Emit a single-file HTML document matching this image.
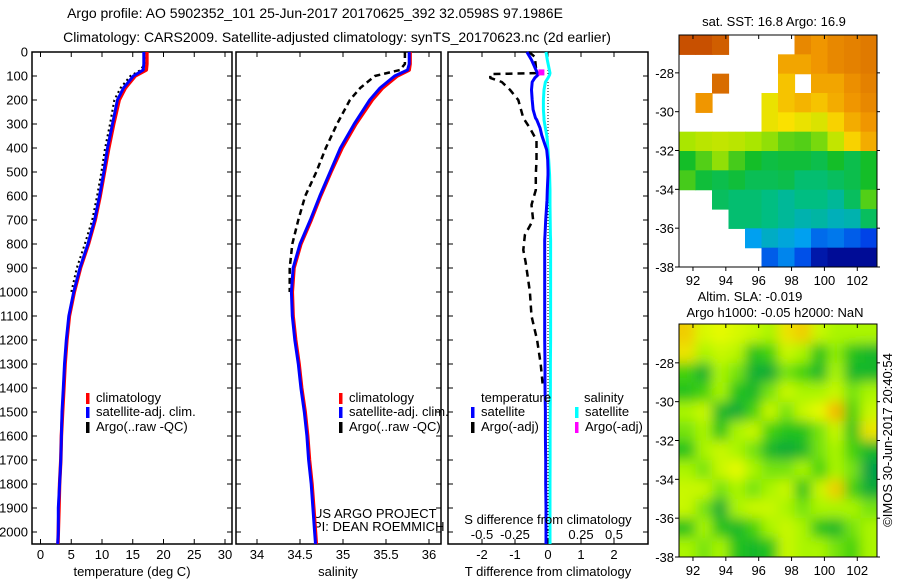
<!DOCTYPE html>
<html><head><meta charset="utf-8"><style>
html,body{margin:0;padding:0;background:#fff}
svg{display:block;font-family:"Liberation Sans",sans-serif}
text{font-size:13px;fill:#000}
</style></head><body>
<svg id="c" width="900" height="580" viewBox="0 0 900 580" xmlns="http://www.w3.org/2000/svg">
<defs>
<clipPath id="clipTop"><rect x="679" y="35" width="198" height="232"/></clipPath>
<clipPath id="clipBot"><rect x="679" y="324" width="198" height="233"/></clipPath>
<filter id="blur" filterUnits="userSpaceOnUse" x="640" y="290" width="280" height="300"><feGaussianBlur stdDeviation="6"/></filter>
</defs>
<text x="315" y="18" text-anchor="middle" style="font-size:14px">Argo profile: AO 5902352_101 25-Jun-2017 20170625_392 32.0598S 97.1986E</text>
<text x="337" y="42" text-anchor="middle" style="font-size:14px">Climatology: CARS2009. Satellite-adjusted climatology: synTS_20170623.nc (2d earlier)</text>
<text x="774" y="26" text-anchor="middle">sat. SST: 16.8 Argo: 16.9</text>
<text x="750" y="301" text-anchor="middle">Altim. SLA: -0.019</text>
<text x="775" y="317" text-anchor="middle">Argo h1000: -0.05 h2000: NaN</text>
<text transform="translate(892,440) rotate(-90)" text-anchor="middle">©IMOS 30-Jun-2017 20:40:54</text>
<text x="313" y="518">US ARGO PROJECT</text>
<text x="313" y="531">PI: DEAN ROEMMICH</text>
<g id="g"></g>
</svg>
<script>
// ---- data ----
const depths = [0,50,75,100,150,200,300,400,500,600,700,800,900,1000,1100,1200,1300,1400,1500,1600,1700,1800,1900,2000,2050];
const tempClim = [17.3,17.3,17.2,15.4,13.8,12.8,11.9,11.1,10.4,9.7,8.9,7.8,6.5,5.5,4.7,4.3,4.0,3.8,3.6,3.4,3.3,3.1,3.0,2.9,2.85];
const tempSat  = [16.8,16.8,16.7,15.1,13.5,12.5,11.7,10.9,10.3,9.6,8.8,7.7,6.4,5.4,4.6,4.2,3.9,3.7,3.5,3.4,3.3,3.1,2.9,2.9,2.8];
const argoDepths = [0,50,75,100,150,200,300,400,500,600,700,800,900,1000];
const tempArgo = [16.9,16.9,16.3,14.6,13.0,12.0,11.3,10.5,9.9,9.2,8.4,7.2,5.9,5.0];
const salClim = [35.78,35.78,35.77,35.63,35.46,35.34,35.15,34.99,34.86,34.74,34.63,34.51,34.43,34.41,34.42,34.45,34.49,34.52,34.56,34.59,34.61,34.64,34.66,34.68,34.69];
const salSat  = [35.77,35.77,35.75,35.60,35.43,35.31,35.13,34.97,34.85,34.73,34.62,34.50,34.42,34.40,34.41,34.44,34.48,34.51,34.55,34.58,34.60,34.63,34.65,34.67,34.68];
const salArgo = [35.72,35.72,35.66,35.37,35.20,35.08,34.93,34.80,34.69,34.56,34.48,34.41,34.38,34.38];
const diffDepths = [0,33,88,95,108,125,158,200,240,275,283,317,346,367,408,450,492,512,575,617,637,700,762,783,825,875,950,1000,1100,1200,1300,1400,1500,1600,1700,1800,1900,2000,2050];
const tDiffSat = [-0.64,-0.5,-0.32,-0.3,-0.4,-0.48,-0.5,-0.48,-0.45,-0.38,-0.34,-0.24,-0.19,-0.14,-0.04,-0.01,0,0,-0.02,-0.03,-0.04,-0.07,-0.09,-0.1,-0.1,-0.1,-0.1,-0.1,-0.1,-0.1,-0.09,-0.09,-0.08,-0.08,-0.07,-0.07,-0.06,-0.06,-0.06];
const sDiffSat = [-0.015,-0.005,0.015,0.012,0.0,-0.02,-0.03,-0.035,-0.035,-0.03,-0.03,-0.02,-0.01,-0.005,0,0.005,0.01,0.012,0.015,0.015,0.015,0.017,0.018,0.02,0.02,0.02,0.02,0.02,0.02,0.02,0.018,0.018,0.017,0.016,0.016,0.015,0.015,0.015,0.015];
const argoDiffDepths = [0,20,88,92,108,125,158,200,275,317,367,450,512,575,637,700,762,825,875,950,1000,1100,1200,1300,1400];
const tDiffArgo = [-0.58,-0.4,-0.35,-1.75,-1.75,-1.4,-1.15,-0.9,-0.75,-0.55,-0.35,-0.35,-0.37,-0.37,-0.5,-0.45,-0.7,-0.75,-0.68,-0.6,-0.55,-0.5,-0.33,-0.22,-0.15];
const sDiffArgoDepth = [85];
const sDiffArgo = [-0.05];
const tTicks = [0,5,10,15,20,25,30];
const sTicks = [34,34.5,35,35.5,36];
const sTickLabels = ["34","34.5","35","35.5","36"];
const dTTicks = [-2,-1,0,1,2];
const dSTicks = [-0.5,-0.25,0,0.25,0.5];
const dSTickLabels = ["-0.5","-0.25","0","0.25","0.5"];
const depthTicks = [0,100,200,300,400,500,600,700,800,900,1000,1100,1200,1300,1400,1500,1600,1700,1800,1900,2000];
const lonTicks = [92,94,96,98,100,102];
const latTicks = [-28,-30,-32,-34,-36,-38];
const N = null;
const sstGrid = [
[0.92,0.92,0.9,N,N,N,N,0.84,0.82,0.84,0.85,0.86],
[N,N,N,N,N,N,0.8,0.8,0.82,0.84,0.85,0.86],
[N,N,0.88,N,N,N,0.76,N,0.8,0.8,0.83,0.85],
[N,0.82,N,N,N,0.7,0.76,0.78,0.76,0.79,0.82,0.84],
[N,N,N,N,N,0.7,0.72,0.7,0.68,0.74,0.79,0.82],
[0.62,0.64,0.65,0.64,0.62,0.6,0.56,0.55,0.58,0.65,0.74,0.79],
[0.5,0.55,0.6,0.54,0.5,0.47,0.48,0.48,0.46,0.5,0.46,0.5],
[0.54,0.48,0.46,0.48,0.45,0.45,0.46,0.42,0.42,0.44,0.46,0.5],
[N,N,0.44,0.42,0.42,0.4,0.38,0.4,0.4,0.38,0.44,0.55],
[N,N,N,0.42,0.42,0.4,0.38,0.36,0.37,0.35,0.36,0.44],
[N,N,N,N,0.3,0.34,0.32,0.3,0.22,0.24,0.2,0.16],
[N,N,N,N,N,0.2,0.26,0.18,0.06,0.03,0.03,0.03]];
const slaGrid = [
[0.9,0.75,0.8,0.75,0.7,0.6,0.85,0.9,0.7,0.6,0.6,0.6],
[0.85,0.6,0.7,0.65,0.3,0.4,0.7,0.6,0.3,0.55,0.3,0.2],
[0.4,0.15,0.6,0.5,0.15,0.1,0.5,0.4,0.2,0.6,0.2,0.2],
[0.3,0.4,0.6,0.3,0.2,0.5,0.7,0.6,0.6,0.7,0.5,0.6],
[0.6,0.7,0.2,0.1,0.4,0.7,0.5,0.7,0.8,0.95,0.4,0.7],
[0.5,0.6,0.3,0.6,0.7,0.4,0.3,0.3,0.5,0.7,0.3,0.85],
[0.3,0.6,0.7,0.6,0.5,0.2,0.1,0.2,0.5,0.6,0.4,0.2],
[0.6,0.5,0.7,0.8,0.6,0.5,0.5,0.6,0.4,0.6,0.5,0.0],
[0.7,0.7,0.5,0.6,0.5,0.6,0.7,0.3,0.7,0.9,0.4,0.1],
[0.7,0.5,0.1,0.6,0.7,0.7,0.6,0.5,0.6,0.6,0.6,0.5],
[0.3,0.6,0.3,0.2,0.4,0.6,0.7,0.6,0.3,0.2,0.5,0.6],
[0.6,0.5,0.6,0.3,0.2,0.3,0.7,0.6,0.6,0.5,0.4,0.6]];

// ---- helpers ----
const NS = "http://www.w3.org/2000/svg";
const G = document.getElementById('g');
function mk(tag, attrs, parent){ const e=document.createElementNS(NS,tag); for(const k in attrs) e.setAttribute(k,attrs[k]); (parent||G).appendChild(e); return e; }
function txt(x,y,s,anchor,parent){ const t=mk('text',{x:x,y:y,'text-anchor':anchor||'middle'},parent); t.textContent=s; return t; }
const Y0=52, Y1=544;
const yD = d => Y0 + d*0.24;
const xT = t => 40.5 + t*6.15;
const xS = s => 257 + (s-34)*86;
const xDT = v => 548 + v*33;
const xDS = v => 548 + v*132;

function frame(x0,x1,name){
  const r=mk('rect',{x:x0,y:Y0,width:x1-x0,height:Y1-Y0,fill:'none',stroke:'#000','stroke-width':1.5});
  
  
}
function depthTicksFor(x0,x1,labels){
  depthTicks.forEach(d=>{
    const y=yD(d);
    mk('line',{x1:x0,y1:y,x2:x0+5,y2:y,stroke:'#000'});
    mk('line',{x1:x1,y1:y,x2:x1-5,y2:y,stroke:'#000'});
    if(labels){ const t=txt(28,y+4.5,String(d),'end');
      
       }
  });
}
function xTicks(vals,labs,fx,ly,name){
  vals.forEach((v,i)=>{
    const x=fx(v);
    mk('line',{x1:x,y1:Y0,x2:x,y2:Y0+5,stroke:'#000'});
    mk('line',{x1:x,y1:Y1,x2:x,y2:Y1-5,stroke:'#000'});
    if(ly){ const t=txt(x,ly,labs[i]);
      
       }
  });
}
function line(xs,ds,fx,color,w,dash,name){
  const p=xs.map((v,i)=>fx(v).toFixed(1)+','+yD(ds[i]).toFixed(1)).join(' ');
  const a={points:p,fill:'none',stroke:color,'stroke-width':w,'stroke-linejoin':'round'};
  if(dash) a['stroke-dasharray']=dash;
  const e=mk('polyline',a);
  
  
}
function legendItem(x,y,color,label,name){
  mk('rect',{x:x,y:y-9,width:3.5,height:11,fill:color});
  const t=txt(x+10,y,label,'start');
  
  
}

// ---- panel 1 ----
frame(32,232,'temperature-panel');
depthTicksFor(32,232,true);
xTicks(tTicks,tTicks.map(String),xT,559,'temperature-tick-label');
line(tempArgo,argoDepths,xT,'#000',2,'2,3','temperature-argo-line');
line(tempClim,depths,xT,'#f00',3.5,null,'temperature-climatology-line');
line(tempSat,depths,xT,'#00f',3,null,'temperature-satellite-line');
legendItem(86,402,'#f00','climatology','legend-climatology');
legendItem(86,416,'#00f','satellite-adj. clim.','legend-satellite');
legendItem(86,431,'#000','Argo(..raw -QC)','legend-argo');
{const t=txt(132,576,'temperature (deg C)');  }

// ---- panel 2 ----
frame(236,441,'salinity-panel');
depthTicksFor(236,441,false);
xTicks(sTicks,sTickLabels,xS,559,'salinity-tick-label');
line(salArgo,argoDepths,xS,'#000',2.5,'6,4','salinity-argo-line');
line(salClim,depths,xS,'#f00',3.5,null,'salinity-climatology-line');
line(salSat,depths,xS,'#00f',3,null,'salinity-satellite-line');
legendItem(339,402,'#f00','climatology','legend-climatology-2');
legendItem(339,416,'#00f','satellite-adj. clim.','legend-satellite-2');
legendItem(339,431,'#000','Argo(..raw -QC)','legend-argo-2');
{const t=txt(338,576,'salinity');  }

// ---- panel 3 ----
frame(448,648,'difference-panel');
depthTicksFor(448,648,false);
xTicks(dTTicks,dTTicks.map(String),xDT,559,'t-diff-tick-label');
dSTicks.forEach((v,i)=>{ const t=txt(xDS(v),539,dSTickLabels[i]);
  
   });
mk('line',{x1:xDT(0),y1:Y0,x2:xDT(0),y2:Y1,stroke:'#000','stroke-dasharray':'1,2'});
line(tDiffArgo,argoDiffDepths,xDT,'#000',2.5,'7,5','t-diff-argo-line');
line(sDiffSat,diffDepths,xDS,'#0ff',3,null,'s-diff-satellite-line');
line(tDiffSat,diffDepths,xDT,'#00f',3,null,'t-diff-satellite-line');
sDiffArgo.forEach((v,i)=>{ const r=mk('rect',{x:xDS(v)-3,y:yD(sDiffArgoDepth[i])-3,width:6,height:6,fill:'#f0f'});
  
   });
{const t=txt(481,402,'temperature','start');  }
{const t=txt(584,402,'salinity','start');  }
legendItem(471,416,'#00f','satellite','legend-t-satellite');
legendItem(471,431,'#000','Argo(-adj)','legend-t-argo');
legendItem(575,416,'#0ff','satellite','legend-s-satellite');
legendItem(575,431,'#f0f','Argo(-adj)','legend-s-argo');
{const t=txt(548,524,'S difference from climatology');  }
{const t=txt(548,576,'T difference from climatology');  }

// ---- maps ----
function interp(stops,v){
  v=Math.max(0,Math.min(1,v));
  for(let i=1;i<stops.length;i++){ if(v<=stops[i][0]){ const a=stops[i-1],b=stops[i],f=(v-a[0])/(b[0]-a[0]);
    return 'rgb('+a[1].map((c,k)=>Math.round(c+(b[1][k]-c)*f)).join(',')+')'; } }
  return 'rgb('+stops[stops.length-1][1].join(',')+')';
}
const sstStops=[[0,[0,0,130]],[0.15,[0,60,230]],[0.3,[0,160,240]],[0.4,[0,190,130]],[0.5,[20,190,40]],[0.62,[170,230,0]],[0.72,[250,225,0]],[0.82,[240,150,0]],[0.92,[200,80,0]],[1,[170,40,0]]];
const slaStops=[[0,[0,160,70]],[0.35,[40,200,20]],[0.6,[170,245,0]],[0.8,[230,250,0]],[1,[250,160,0]]];
const mapX0=679,mapW=198,lonMin=91.15,lonMax=103.2;
const xLon = l => mapX0 + (l-lonMin)/(lonMax-lonMin)*mapW;
function mapAxes(y0,h,latTop,name){
  const yLat = l => y0 + (latTop-l)/(latTop+38)*h;
  const r=mk('rect',{x:mapX0,y:y0,width:mapW,height:h,fill:'none',stroke:'#000','stroke-width':1});
  
  
  lonTicks.forEach(l=>{ const x=xLon(l);
    mk('line',{x1:x,y1:y0,x2:x,y2:y0+4,stroke:'#000'});
    mk('line',{x1:x,y1:y0+h,x2:x,y2:y0+h+4,stroke:'#000'});
    const t=txt(x,y0+h+18,String(l));   });
  latTicks.forEach(l=>{ const y=yLat(l);
    mk('line',{x1:mapX0-4,y1:y,x2:mapX0,y2:y,stroke:'#000'});
    mk('line',{x1:mapX0+mapW,y1:y,x2:mapX0+mapW+3,y2:y,stroke:'#000'});
    const t=txt(mapX0-5,y+5,String(l),'end');   });
}
{
  const gg=mk('g',{'clip-path':'url(#clipTop)'});
  
  
  const rows=sstGrid.length, cols=sstGrid[0].length, cw=mapW/cols, ch=232/rows;
  sstGrid.forEach((row,i)=>row.forEach((v,j)=>{ if(v===null) return;
    mk('rect',{x:mapX0+j*cw,y:35+i*ch,width:cw+0.6,height:ch+0.6,fill:interp(sstStops,v)},gg); }));
  mapAxes(35,232,-26.05,'sst-map-frame');
}
{
  const outer=mk('g',{'clip-path':'url(#clipBot)'});
  
  
  const gg=mk('g',{filter:'url(#blur)'},outer);
  const rows=slaGrid.length, cols=slaGrid[0].length, cw=mapW/cols, ch=233/rows;
  slaGrid.forEach((row,i)=>row.forEach((v,j)=>{
    mk('rect',{x:mapX0+j*cw-(j===0?20:0),y:324+i*ch-(i===0?20:0),width:cw+(j===0||j===cols-1?20:0.6),height:ch+(i===0||i===rows-1?20:0.6),fill:interp(slaStops,v)},gg); }));
  mapAxes(324,233,-26,'sla-map-frame');
}
</script>
</body></html>
